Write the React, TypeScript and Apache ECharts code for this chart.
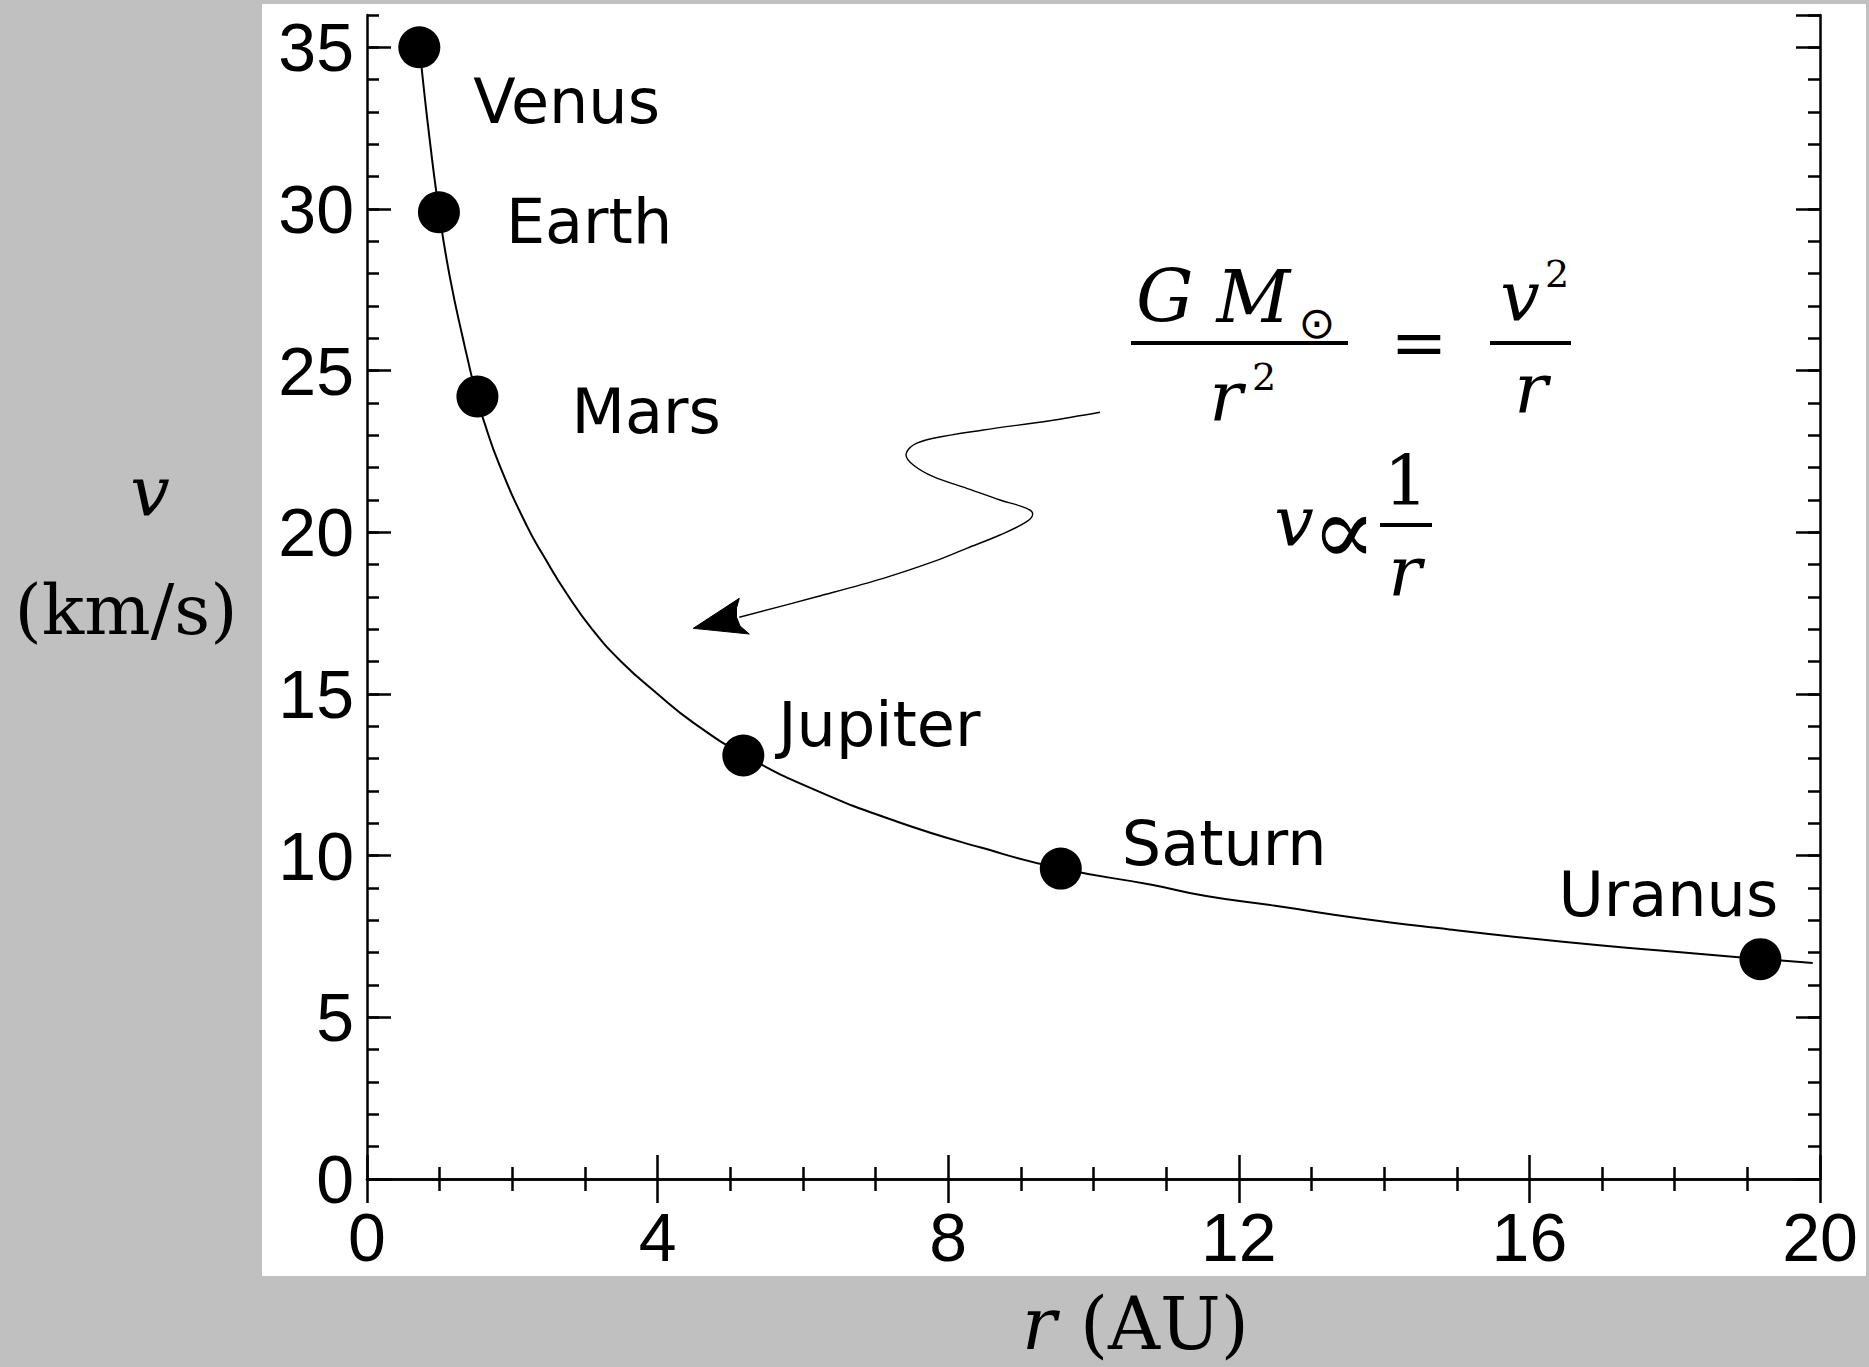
import React, { useEffect, useRef } from 'react';
import * as echarts from 'echarts';

// ---------------- data ----------------
const xTickLabels = [0, 4, 8, 12, 16, 20];
const yTickLabels = [0, 5, 10, 15, 20, 25, 30, 35];

const planetNames = ['Venus', 'Earth', 'Mars', 'Jupiter', 'Saturn', 'Uranus'];
const planetR = [0.72, 0.99, 1.52, 5.18, 9.55, 19.18];
const planetV = [35.0, 29.9, 24.2, 13.1, 9.6, 6.8];

// points
const curveR = [0.72, 0.75, 0.86, 1.0, 1.14, 1.32, 1.52, 1.6, 1.82, 2.2, 2.45, 2.75, 3.1, 3.5, 4.0, 4.5, 5.2, 6.15, 7.3, 8.45, 9.55, 10.8, 11.55, 12.5, 13.7, 14.9, 15.85, 17.0, 18.0, 19.2, 19.9];
const curveV = [35.1, 34.4, 32.2, 29.8, 27.9, 26.0, 24.1, 23.5, 22.1, 20.2, 19.2, 18.1, 17.0, 16.0, 15.0, 14.1, 13.1, 12.05, 11.05, 10.25, 9.6, 9.1, 8.75, 8.45, 8.05, 7.72, 7.48, 7.22, 7.03, 6.8, 6.68];

// ---------------- styles / layout ----------------
const W = 1869;
const H = 1367;
const SERIF = '"DejaVu Serif", serif';
const SANS = '"DejaVu Sans", sans-serif';
const TICKFONT = '"Liberation Sans", Arial, sans-serif';
const GRAY = '#c0c0c0';

// label offsets (px) relative to the dot's right edge / centre
const labelOffsets: [number, number][] = [
  [33, 54],
  [46, 9],
  [73, 15],
  [14, -31],
  [40, -25],
  [-223, -65],
];

function txt(
  text: string,
  x: number,
  baseline: number,
  fs: number,
  family: string,
  italic: boolean,
  align: string = 'left'
) {
  return {
    type: 'text',
    x,
    y: baseline - 0.346 * fs,
    z: 50,
    style: {
      text,
      fontSize: fs,
      fontFamily: family,
      fontStyle: italic ? 'italic' : 'normal',
      fill: '#000',
      align,
      verticalAlign: 'middle',
    },
  };
}

function hline(x1: number, x2: number, y: number, w: number) {
  return {
    type: 'line',
    z: 50,
    shape: { x1, y1: y, x2, y2: y },
    style: { stroke: '#000', lineWidth: w },
  };
}

const arrowPts: number[][] = [
  [1100, 412.3], [1050, 420.7], [983.3, 430], [933.3, 438.3], [913.3, 445], [906, 455],
  [913.3, 465], [933.3, 476.7], [966.7, 488.3], [1000, 500], [1026.7, 508.3], [1032.7, 514],
  [1026.7, 521.7], [1000, 535], [966.7, 548.3], [933.3, 561.7], [883.3, 578.3], [816.7, 596.7],
  [739.3, 617.3],
];
const arrowHead: number[][] = [
  [693.3, 628.3], [739.3, 598.3], [736.5, 608], [736.5, 617], [740, 626], [749.3, 634],
];

export default function App() {
  const ref = useRef<HTMLDivElement>(null);

  useEffect(() => {
    if (!ref.current) return;
    const chart = echarts.init(ref.current, undefined, { renderer: 'svg' });

    const tickStyle = { color: '#000', width: 2.5 };
    const axisLine = { show: true, lineStyle: { color: '#000', width: 2.5 } };

    const xBase = (pos: string, showLabel: boolean) => ({
      type: 'value',
      position: pos,
      min: xTickLabels[0],
      max: xTickLabels[xTickLabels.length - 1],
      interval: xTickLabels[1] - xTickLabels[0],
      axisLine,
      axisTick: { show: true, inside: true, length: 24, lineStyle: tickStyle },
      minorTick: { show: true, splitNumber: 4, length: 12, lineStyle: tickStyle },
      splitLine: { show: false },
      minorSplitLine: { show: false },
      axisLabel: {
        show: showLabel,
        margin: 24,
        fontSize: 68,
        fontFamily: TICKFONT,
        color: '#000',
      },
    });

    const yMajor = (pos: string, showLabel: boolean) => ({
      type: 'value',
      position: pos,
      min: 0,
      max: 36,
      interval: yTickLabels[1] - yTickLabels[0],
      axisLine,
      axisTick: { show: true, inside: true, length: 24, lineStyle: tickStyle },
      splitLine: { show: false },
      axisLabel: {
        show: showLabel,
        showMaxLabel: false,
        margin: 13,
        fontSize: 68,
        fontFamily: TICKFONT,
        color: '#000',
      },
    });
    const yMinor = (pos: string) => ({
      type: 'value',
      position: pos,
      min: 0,
      max: 36,
      interval: 1,
      axisLine: { show: false },
      axisTick: { show: true, inside: true, length: 12, lineStyle: tickStyle },
      splitLine: { show: false },
      axisLabel: { show: false },
    });

    const graphics: any[] = [
      {
        type: 'rect',
        z: -100,
        shape: { x: 262, y: 4, width: 1604, height: 1272 },
        style: { fill: '#ffffff' },
        silent: true,
      },
      // equation  G M_sun / r^2 = v^2 / r
      txt('G M', 1136, 322, 72, SERIF, true, 'left'),
      { ...txt('\u2299', 1317, 0, 44, SANS, false, 'center'), y: 322 },
      hline(1131, 1348, 343, 4),
      txt('r', 1226, 420, 70, SERIF, true, 'center'),
      txt('2', 1252, 390, 38, SERIF, false, 'left'),
      { ...txt('=', 1419, 0, 68, SERIF, false, 'center'), y: 342 },
      txt('v', 1520, 320, 70, SERIF, true, 'center'),
      txt('2', 1545, 287, 38, SERIF, false, 'left'),
      hline(1490, 1571, 343, 4),
      txt('r', 1531, 412, 70, SERIF, true, 'center'),
      // v ∝ 1/r
      txt('v', 1294, 545, 70, SERIF, true, 'center'),
      { ...txt('\u221D', 1344, 0, 96, SERIF, false, 'center'), y: 531 },
      txt('1', 1406, 505, 70, SERIF, false, 'center'),
      hline(1380, 1432, 525, 4),
      txt('r', 1405, 595, 70, SERIF, true, 'center'),
      // axis titles
      txt('v', 150, 515, 70, SERIF, true, 'center'),
      txt('(km/s)', 126, 634, 70, SERIF, false, 'center'),
      txt('r', 1022, 1349, 72, SERIF, true, 'left'),
      txt('(AU)', 1080, 1349, 72, SERIF, false, 'left'),
      // wavy arrow
      {
        type: 'polyline',
        z: 40,
        shape: { points: arrowPts, smooth: 0.35 },
        style: { stroke: '#000', lineWidth: 1.4, fill: null },
        silent: true,
      },
      {
        type: 'polygon',
        z: 40,
        shape: { points: arrowHead },
        style: { fill: '#000', stroke: '#000', lineWidth: 1 },
        silent: true,
      },
    ];

    chart.setOption({
      animation: false,
      backgroundColor: GRAY,
      grid: { left: 367, top: 15, width: 1453, height: 1164, containLabel: false, show: false },
      xAxis: [xBase('bottom', true), xBase('top', false)],
      yAxis: [yMajor('left', true), yMinor('left'), yMajor('right', false), yMinor('right')],
      series: [
        {
          type: 'line',
          xAxisIndex: 0,
          yAxisIndex: 0,
          data: curveR.map((r, i) => [r, curveV[i]]),
          smooth: 0.5,
          showSymbol: false,
          symbol: 'none',
          lineStyle: { color: '#000', width: 2, opacity: 1 },
          silent: true,
          z: 2,
        },
        {
          type: 'scatter',
          xAxisIndex: 0,
          yAxisIndex: 0,
          symbol: 'circle',
          symbolSize: 42,
          itemStyle: { color: '#000', opacity: 1 },
          data: planetR.map((r, i) => ({
            name: planetNames[i],
            value: [r, planetV[i]],
            label: { offset: labelOffsets[i] },
          })),
          label: {
            show: true,
            position: 'right',
            distance: 0,
            formatter: '{b}',
            fontSize: 62,
            fontFamily: SANS,
            color: '#000',
            opacity: 1,
            align: 'left',
            verticalAlign: 'middle',
          },
          z: 3,
        },
      ],
      graphic: { elements: graphics },
    });

    return () => {
      chart.dispose();
    };
  }, []);

  return (
    <div
      ref={ref}
      style={{ position: 'absolute', left: 0, top: 0, width: W, height: H }}
    />
  );
}
